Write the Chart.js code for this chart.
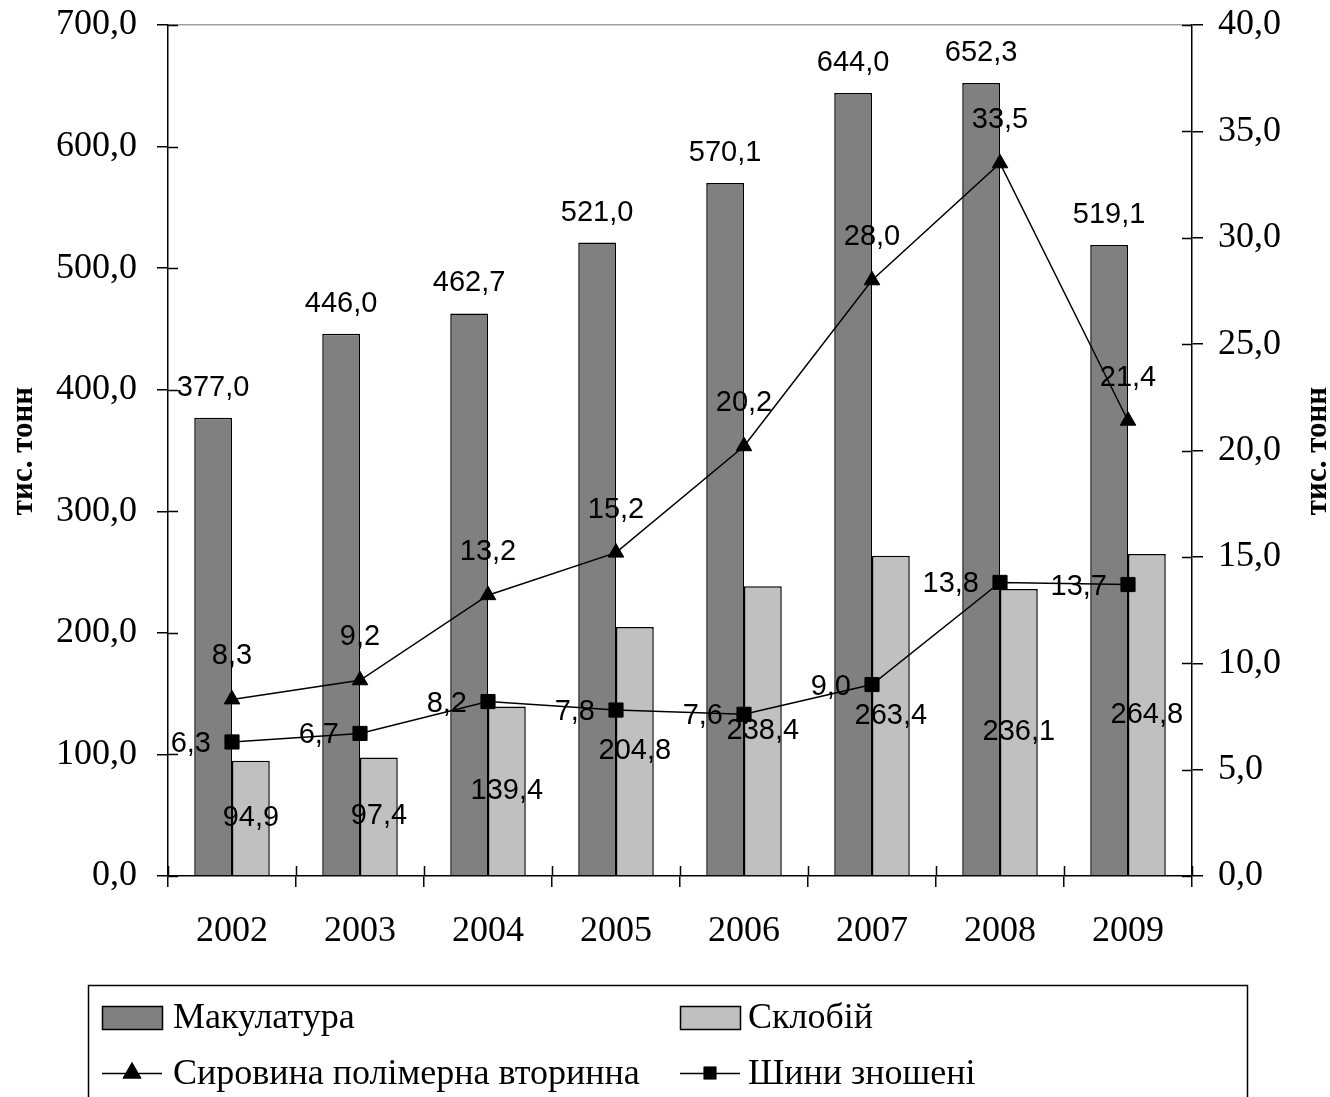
<!DOCTYPE html>
<html>
<head>
<meta charset="utf-8">
<script src="https://cdn.jsdelivr.net/npm/chart.js@4.4.1/dist/chart.umd.min.js"></script>
<style>
html,body{margin:0;padding:0;background:#fff;}
#wrap{width:1330px;height:1097px;position:relative;}
</style>
</head>
<body>
<div id="wrap"><canvas id="c"></canvas></div>
<script>
const years = ['2002','2003','2004','2005','2006','2007','2008','2009'];
const makulatura = [377.0, 446.0, 462.7, 521.0, 570.1, 644.0, 652.3, 519.1];
const sklobiy = [94.9, 97.4, 139.4, 204.8, 238.4, 263.4, 236.1, 264.8];
const syrovyna = [8.3, 9.2, 13.2, 15.2, 20.2, 28.0, 33.5, 21.4];
const shyny = [6.3, 6.7, 8.2, 7.8, 7.6, 9.0, 13.8, 13.7];
const seriesNames = ['Макулатура', 'Склобій', 'Сировина полімерна вторинна', 'Шини зношені'];
const axisTitle = 'тис. тонн';

const SERIF = '"Liberation Serif", "Times New Roman", serif';
const SANS = '"Liberation Sans", Arial, sans-serif';
const fmt = v => v.toFixed(1).replace('.', ',');

const labelPlugin = {
  id: 'valueLabels',
  afterDatasetsDraw(chart) {
    const ctx = chart.ctx;
    ctx.save();
    ctx.font = '29px ' + SANS;
    ctx.fillStyle = '#000';
    chart.data.datasets.forEach((ds, i) => {
      const meta = chart.getDatasetMeta(i);
      meta.data.forEach((el, j) => {
        const t = fmt(ds.data[j]);
        let x = el.x, y = el.y;
        ctx.textAlign = 'center';
        ctx.textBaseline = 'middle';
        if (ds.labelPos === 'top') {
          y = el.y - 30;
        } else if (ds.labelPos === 'center') {
          y = (el.y + el.base) / 2;
        } else if (ds.labelPos === 'above') {
          y = el.y - 43;
        } else if (ds.labelPos === 'left') {
          ctx.textAlign = 'right';
          x = el.x - 21;
          y = el.y + 2;
        }
        ctx.fillText(t, x, y);
      });
    });
    ctx.restore();
  }
};

const decoPlugin = {
  id: 'deco',
  afterDraw(chart) {
    const ctx = chart.ctx;
    const ca = chart.chartArea;
    const sy = chart.scales.y, sy1 = chart.scales.y1, sx = chart.scales.x;
    ctx.save();
    ctx.strokeStyle = '#000';
    ctx.lineWidth = 1.5;
    // inner halves of crossing ticks
    ctx.beginPath();
    sy.ticks.forEach(t => {
      const p = Math.round(sy.getPixelForValue(t.value)) + 0.5;
      ctx.moveTo(ca.left, p); ctx.lineTo(ca.left + 10, p);
    });
    sy1.ticks.forEach(t => {
      const p = Math.round(sy1.getPixelForValue(t.value)) + 0.5;
      ctx.moveTo(ca.right - 10, p); ctx.lineTo(ca.right, p);
    });
    for (let i = 0; i <= years.length; i++) {
      const p = Math.round(sx.getPixelForValue(i - 0.5)) + 0.5;
      ctx.moveTo(p, ca.bottom - 10); ctx.lineTo(p, ca.bottom);
    }
    ctx.stroke();

    // axis titles (both read bottom-to-top)
    ctx.font = 'bold 31px ' + SERIF;
    ctx.fillStyle = '#000';
    ctx.textAlign = 'center';
    ctx.textBaseline = 'middle';
    [[24, 451], [1318, 451]].forEach(([x, y]) => {
      ctx.save();
      ctx.translate(x, y);
      ctx.rotate(-Math.PI / 2);
      ctx.fillText(axisTitle, 0, 0);
      ctx.restore();
    });

    // legend
    const ds = chart.data.datasets;
    ctx.lineWidth = 1.5;
    ctx.strokeStyle = '#000';
    ctx.strokeRect(88.5, 985.5, 1159, 200);
    ctx.font = '36px ' + SERIF;
    ctx.textAlign = 'left';
    ctx.textBaseline = 'middle';
    const items = [
      {i: 0, x: 102, y: 1017},
      {i: 1, x: 680, y: 1017},
      {i: 2, x: 102, y: 1073},
      {i: 3, x: 680, y: 1073}
    ];
    items.forEach(it => {
      const d = ds[it.i];
      if (d.type === 'line') {
        ctx.beginPath();
        ctx.moveTo(it.x, it.y + 0.5); ctx.lineTo(it.x + 60, it.y + 0.5);
        ctx.stroke();
        ctx.fillStyle = '#000';
        ctx.beginPath();
        const r = d.pointStyle === 'triangle' ? 11 : 9;
        Chart.helpers.drawPoint(ctx, {pointStyle: d.pointStyle, radius: r, rotation: 0, borderWidth: 0}, it.x + 30, it.y);
        ctx.fill();
      } else {
        ctx.fillStyle = d.backgroundColor;
        ctx.fillRect(it.x, it.y - 11, 60, 23);
        ctx.strokeRect(it.x + 0.5, it.y - 11 + 0.5, 60, 23);
      }
      ctx.fillStyle = '#000';
      ctx.fillText(seriesNames[it.i], it.x + (it.i % 2 === 0 ? 71 : 68), it.y + 2);
    });
    ctx.restore();
  }
};

const tickFmt = v => Number(v).toFixed(1).replace('.', ',');
const noPadV = s => { s.paddingTop = 0; s.paddingBottom = 0; };

new Chart(document.getElementById('c'), {
  data: {
    labels: years,
    datasets: [
      {type: 'bar', label: seriesNames[0], data: makulatura, yAxisID: 'y', order: 2,
       backgroundColor: '#808080', borderColor: '#000', borderWidth: 1.5, labelPos: 'top'},
      {type: 'bar', label: seriesNames[1], data: sklobiy, yAxisID: 'y', order: 2,
       backgroundColor: '#c0c0c0', borderColor: '#000', borderWidth: 1.5, labelPos: 'center'},
      {type: 'line', label: seriesNames[2], data: syrovyna, yAxisID: 'y1', order: 1,
       borderColor: '#000', borderWidth: 1.5, pointStyle: 'triangle', pointRadius: 9,
       pointBackgroundColor: '#000', pointBorderColor: '#000', pointBorderWidth: 1, fill: false, tension: 0, labelPos: 'above'},
      {type: 'line', label: seriesNames[3], data: shyny, yAxisID: 'y1', order: 1,
       borderColor: '#000', borderWidth: 1.5, pointStyle: 'rect', pointRadius: 10,
       pointBackgroundColor: '#000', pointBorderColor: '#000', pointBorderWidth: 1, fill: false, tension: 0, labelPos: 'left'}
    ]
  },
  options: {
    responsive: true,
    maintainAspectRatio: false,
    animation: false,
    events: [],
    layout: {padding: {top: 25, left: 0, right: 0, bottom: 0}},
    datasets: {bar: {barPercentage: 1, categoryPercentage: 0.59}},
    plugins: {legend: {display: false}, tooltip: {enabled: false}, title: {display: false}},
    scales: {
      x: {
        offset: true,
        grid: {offset: true, drawOnChartArea: false, color: '#000', lineWidth: 1.5, tickLength: 11},
        border: {color: '#000', width: 1.5},
        ticks: {font: {family: SERIF, size: 36}, color: '#000', padding: 23, maxRotation: 0},
        afterFit: s => { s.height = 221; s.paddingLeft = 0; s.paddingRight = 0; }
      },
      y: {
        position: 'left', min: 0, max: 700,
        grid: {color: ctx => (ctx.tick && ctx.tick.value === 700 ? '#a0a0a0' : 'rgba(0,0,0,0)'),
               tickColor: '#000', lineWidth: 1.5, tickLength: 11},
        border: {color: '#000', width: 1.5},
        ticks: {stepSize: 100, callback: tickFmt, font: {family: SERIF, size: 36}, color: '#000', padding: 20},
        afterFit: s => { s.width = 168; noPadV(s); }
      },
      y1: {
        position: 'right', min: 0, max: 40,
        grid: {drawOnChartArea: false, color: '#000', lineWidth: 1.5, tickLength: 11},
        border: {color: '#000', width: 1.5},
        ticks: {stepSize: 5, callback: tickFmt, font: {family: SERIF, size: 36}, color: '#000', padding: 15},
        afterFit: s => { s.width = 138; noPadV(s); }
      }
    }
  },
  plugins: [labelPlugin, decoPlugin]
});
</script>
</body>
</html>
